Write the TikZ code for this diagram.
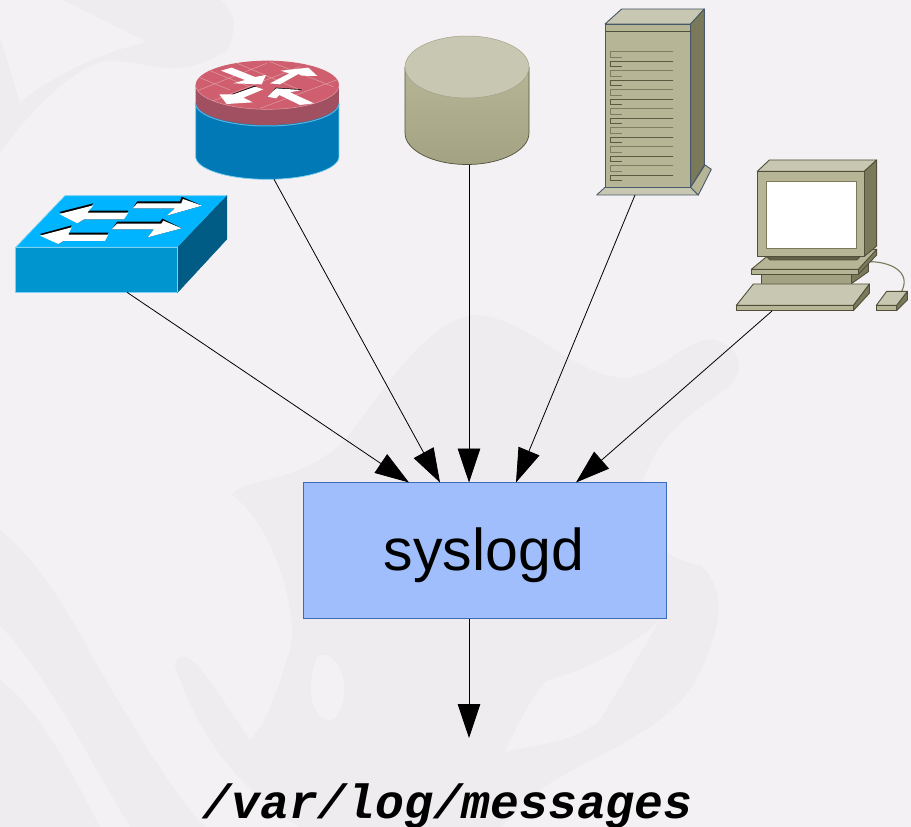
\documentclass[tikz,border=0pt]{standalone}
\usepackage{fontspec}
\setmainfont{Liberation Sans}
\setmonofont{Liberation Mono}
\usetikzlibrary{arrows.meta}
\definecolor{bgc}{HTML}{F3F1F3}
\definecolor{wmc}{HTML}{EEECEE}
\definecolor{boxfill}{HTML}{A0BEFB}
\definecolor{boxedge}{HTML}{3A6CB8}
\definecolor{swtop}{HTML}{00B4FF}
\definecolor{swfront}{HTML}{0095CF}
\definecolor{swside}{HTML}{005B85}
\definecolor{swedge}{HTML}{7CD0F2}
\definecolor{rtop}{HTML}{CF5F6E}
\definecolor{rband}{HTML}{A05060}
\definecolor{rbrick}{HTML}{E29AA2}
\definecolor{rblue}{HTML}{0079B6}
\definecolor{tlight}{HTML}{C8C8B2}
\definecolor{tmid}{HTML}{B6B696}
\definecolor{tlow}{HTML}{A3A383}
\definecolor{tdark}{HTML}{7A7A5A}
\definecolor{tedge}{HTML}{50503A}
\definecolor{sedge}{HTML}{47586A}
\tikzset{
  x=1pt,y=-1pt,
  device/.style={inner sep=0pt,outer sep=0pt,draw=none},
  feed/.style={draw=black,line width=0.8pt,-{Triangle[length=34pt,width=22.5pt]}},
  wm/.style={fill=wmc,draw=none},
  swpoly/.style={draw=swedge,line width=0.7pt,line join=round},
  whitearrow/.style={fill=white,draw=none},
  shadowarrow/.style={fill=black,draw=none},
  tan/.style={draw=tedge,line width=0.9pt,line join=round},
  srv/.style={draw=sedge,line width=0.9pt,line join=round},
  brick/.style={draw=rbrick,line width=0.5pt},
}
\begin{document}
\begin{tikzpicture}
\useasboundingbox (0,0) rectangle (911,827);
\fill[bgc] (0,0) rectangle (911,827);
% watermark
\begin{scope}
\clip (0,0) rectangle (911,827);
\fill[wm] (232,495) .. controls (240,478) and (300,485) .. (345,440)
  .. controls (390,380) and (430,320) .. (475,315)
  .. controls (530,318) and (570,375) .. (625,378)
  .. controls (660,375) and (690,335) .. (715,340)
  .. controls (745,350) and (745,375) .. (725,390)
  .. controls (680,420) and (655,440) .. (640,490)
  .. controls (640,530) and (660,560) .. (700,565)
  .. controls (730,590) and (720,640) .. (690,690)
  .. controls (650,740) and (590,755) .. (540,790)
  .. controls (520,805) and (510,820) .. (500,827)
  -- (300,827) .. controls (240,790) and (200,740) .. (175,665)
  .. controls (185,635) and (215,690) .. (250,740)
  .. controls (270,720) and (280,680) .. (290,650)
  .. controls (300,610) and (270,520) .. (232,495) -- cycle;
\fill[bgc] (505,752) .. controls (520,720) and (535,690) .. (548,680)
  .. controls (590,670) and (640,640) .. (660,620) -- (600,720) .. controls (570,745) and (530,745) .. (505,752) -- cycle;
\fill[bgc] (318,655) .. controls (345,650) and (352,700) .. (335,718) .. controls (320,728) and (300,700) .. (318,655) -- cycle;
\fill[wm] (0,530) .. controls (60,580) and (90,660) .. (130,720)
  .. controls (160,770) and (180,800) .. (205,827) -- (130,827)
  .. controls (90,760) and (50,680) .. (0,625) -- cycle;
\fill[wm] (0,680) .. controls (40,710) and (70,770) .. (100,827) -- (0,827) -- cycle;
\fill[wm] (63,0) -- (220,0) .. controls (232,8) and (240,25) .. (227,50)
  .. controls (210,62) and (190,68) .. (173,68) .. controls (150,68) and (125,58) .. (100,62)
  .. controls (70,72) and (30,110) .. (0,153) -- (0,37) -- (20,103)
  .. controls (40,85) and (90,55) .. (147,42) -- cycle;
\end{scope}
% anchor nodes for the devices
\node[device,minimum width=211.3pt,minimum height=96.6pt] (switch) at (121.35,244) {};
\node[device,minimum width=143.4pt,minimum height=118.6pt] (router) at (267.3,120) {};
\node[device,minimum width=124pt,minimum height=129pt] (storage) at (467,100.5) {};
\node[device,minimum width=114.6pt,minimum height=186pt] (server) at (654,102) {};
\node[device,minimum width=171pt,minimum height=151pt] (pc) at (821.7,235.5) {};
% switch
\begin{scope}[shift={(0,40)},x=1pt/3,y=-1pt/3]
\filldraw[swpoly,fill=swtop] (47,622) -- (195,467) -- (681,467) -- (533,622) -- cycle;
\filldraw[swpoly,fill=swfront] (47,622) -- (533,622) -- (533,757) -- (47,757) -- cycle;
\filldraw[draw=swside,fill=swside] (533,622) -- (681,467) -- (681,597) -- (533,757) -- cycle;
\draw[swedge,line width=0.7pt] (533,622) -- (533,757);
\fill[shadowarrow] (178,516) -- (280,490) -- (262,512) -- (385,512) -- (372,538) -- (252,538) -- (232,550) -- cycle;
\fill[whitearrow] (178,522) -- (280,496) -- (262,518) -- (385,518) -- (372,538) -- (252,538) -- (232,550) -- cycle;
\fill[shadowarrow] (606,497) -- (545,470) -- (540,484) -- (412,484) -- (398,505) -- (525,505) -- (500,527) -- cycle;
\fill[whitearrow] (606,497) -- (549,477) -- (544,490) -- (412,490) -- (398,505) -- (525,505) -- (500,527) -- cycle;
\fill[shadowarrow] (120,582) -- (215,556) -- (205,578) -- (325,578) -- (315,603) -- (190,603) -- (175,612) -- cycle;
\fill[whitearrow] (120,587) -- (215,562) -- (205,584) -- (325,584) -- (315,603) -- (190,603) -- (175,612) -- cycle;
\fill[shadowarrow] (545,565) -- (487,536) -- (480,545) -- (352,545) -- (335,568) -- (462,568) -- (443,592) -- cycle;
\fill[whitearrow] (545,565) -- (490,542) -- (484,551) -- (352,551) -- (335,568) -- (462,568) -- (443,592) -- cycle;
\end{scope}
% router
\begin{scope}[shift={(0,40)},x=1pt/3,y=-1pt/3]
\filldraw[draw=swedge,line width=0.7pt,fill=rblue] (587,190) -- (587,350) arc[x radius=215,y radius=68,start angle=180,end angle=0] -- (1017,190) -- cycle;
\fill[rband] (587,135) -- (587,187) arc[x radius=215,y radius=68,start angle=180,end angle=0] -- (1017,135) -- cycle;
\draw[draw=swedge!70!rblue,line width=1pt] (587,190) arc[x radius=215,y radius=68,start angle=180,end angle=0];
\fill[rtop] (802,135) ellipse[x radius=215,y radius=73];
\begin{scope}
\clip (802,135) ellipse[x radius=215,y radius=73];
\draw[brick] (592,110) -- (690,150) (625,90) -- (760,145) (700,65) -- (900,150) (810,65) -- (1000,140)
 (592,152) -- (800,70) (640,182) -- (900,80) (780,205) -- (1015,118);
\end{scope}
\draw[rbrick,line width=0.5pt] (587,135) arc[x radius=215,y radius=73,start angle=180,end angle=0];
\end{scope}
\begin{scope}[shift={(190,55)},x=1pt/3,y=-1pt/3]
\fill[whitearrow] (93,47) -- (125,38) -- (195,66) -- (228,60) -- (215,88) -- (130,85) -- (165,75) -- cycle;
\fill[whitearrow] (240,85) -- (298,55) -- (272,47) -- (355,38) -- (382,63) -- (335,62) -- (325,57) -- (270,88) -- cycle;
\fill[shadowarrow] (127,117) -- (195,92) -- (200,96) -- (130,120) -- cycle;
\fill[whitearrow] (195,95) -- (220,103) -- (160,128) -- (188,142) -- (110,147) -- (88,118) -- (130,118) -- cycle;
\fill[shadowarrow] (232,125) -- (258,98) -- (335,103) -- (335,106) -- (258,102) -- cycle;
\fill[whitearrow] (232,125) -- (258,100) -- (335,105) -- (300,112) -- (372,145) -- (330,150) -- (268,120) -- (258,130) -- cycle;
\end{scope}
% storage cylinder
\shade[top color=tmid,bottom color=tlow] (405,67) -- (405,133) arc[x radius=62,y radius=31.5,start angle=180,end angle=0] -- (529,67) -- cycle;
\draw[tedge,line width=0.7pt] (405,67) -- (405,133) arc[x radius=62,y radius=31.5,start angle=180,end angle=0] -- (529,67);
\filldraw[draw=tdark!70,line width=0.5pt,fill=tlight] (467,67) ellipse[x radius=62,y radius=31];
% server
\begin{scope}[shift={(590,0)},x=1pt/3,y=-1pt/3]
\filldraw[srv,fill=tlight] (45,72) -- (95,27) -- (343,27) -- (302,72) -- cycle;
\filldraw[srv,fill=tdark] (302,72) -- (343,27) -- (343,495) -- (302,562) -- cycle;
\filldraw[srv,fill=tlight] (20,585) -- (45,562) -- (302,562) -- (325,585) -- cycle;
\filldraw[srv,fill=tmid] (302,562) -- (345,495) -- (364,508) -- (325,585) -- cycle;
\filldraw[srv,fill=tmid] (45,72) rectangle (302,562);
\draw[tedge,line width=1pt] (45,95) -- (302,95);
\foreach \k in {0,...,13}{
  \pgfmathsetmacro{\yy}{155+28.5*\k}
  \pgfmathsetmacro{\opac}{mod(\k,2)==0 ? 0.55 : 0.9}
  \draw[tedge,line width=0.7pt,opacity=\opac] (250,\yy) -- (62,\yy) -- (62,\yy+17) -- (97,\yy+17);
}
\end{scope}
% workstation
\begin{scope}[shift={(590,0)},x=1pt/3,y=-1pt/3]
% cable
\draw[tdark,line width=1.1pt] (838,785) .. controls (900,785) and (965,815) .. (935,874);
% stand
\filldraw[tan,fill=tdark] (515,823) -- (783,823) -- (835,790) -- (835,815) -- (783,852) -- (515,852) -- cycle;
\filldraw[tan,fill=tlow] (515,823) rectangle (783,852);
\filldraw[tan,fill=tdark] (805,823) -- (860,765) -- (860,748) -- (805,790) -- cycle;
\filldraw[tan,fill=tmid] (484,808) -- (530,770) -- (860,748) -- (805,808) -- cycle;
\filldraw[tan,fill=tmid] (484,808) rectangle (805,823);
% monitor
\filldraw[tan,fill=tlight] (502,514) -- (538,480) -- (860,480) -- (823,514) -- cycle;
\filldraw[tan,fill=tdark] (823,514) -- (860,480) -- (860,738) -- (823,769) -- cycle;
\filldraw[tan,fill=tdark!80!black] (530,770) -- (810,770) -- (800,780) -- (540,780) -- cycle;
\filldraw[tan,fill=tmid] (502,514) rectangle (823,769);
\filldraw[draw=tdark,line width=1pt,fill=white] (530,546) rectangle (800,745);
% keyboard
\filldraw[tan,fill=tdark] (790,916) -- (838,852) -- (838,880) -- (790,932) -- cycle;
\filldraw[tan,fill=tlight] (439,916) -- (490,852) -- (838,852) -- (790,916) -- cycle;
\filldraw[tan,fill=tmid] (439,916) rectangle (790,932);
% mouse
\filldraw[tan,fill=tdark] (920,916) -- (952,874) -- (952,900) -- (920,932) -- cycle;
\filldraw[tan,fill=tlight] (859,916) -- (890,874) -- (952,874) -- (920,916) -- cycle;
\filldraw[tan,fill=tmid] (859,916) rectangle (920,932);
\end{scope}
% syslogd
\node[draw=boxedge,fill=boxfill,line width=0.8pt,inner sep=0pt,outer sep=0pt,minimum width=363pt,minimum height=136pt,text height=52pt,text depth=12pt,font=\fontsize{59}{60}\selectfont] (syslogd) at (484.5,550.5) {\hspace*{-1pt}syslogd};
\node[inner sep=0pt,anchor=base,font=\fontsize{48}{50}\selectfont\ttfamily\bfseries\itshape] (messages) at (447.5,818) {/var/log/messages};
\coordinate (logend) at (469,738);
% connectors
\draw[feed] ([xshift=5.65pt]switch.south) -- ([xshift=106pt]syslogd.north west);
\draw[feed] ([xshift=6.7pt]router.south) -- ([xshift=137pt]syslogd.north west);
\draw[feed] ([xshift=2pt]storage.south) -- ([xshift=166pt]syslogd.north west);
\draw[feed] ([xshift=-19pt]server.south) -- ([xshift=213pt]syslogd.north west);
\draw[feed] ([xshift=-49.7pt]pc.south) -- ([xshift=273pt]syslogd.north west);
\draw[feed] ([xshift=166pt]syslogd.south west) -- (logend);
\end{tikzpicture}
\end{document}
